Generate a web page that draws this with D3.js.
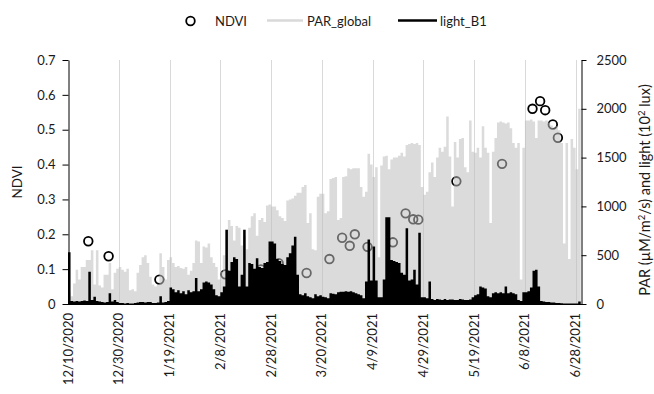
<!DOCTYPE html>
<html>
<head>
<meta charset="utf-8">
<script src="https://cdn.jsdelivr.net/npm/d3@7"></script>
<style>
  body { margin: 0; background: #fff; }
  svg { font-family: Lato, 'Open Sans', sans-serif; }
</style>
</head>
<body>
<svg id="chart" width="654" height="394"></svg>
<script>
// first day of the daily series
const startDate = '12/10/2020';

// daily peak PAR_global (right axis), one value per day from 12/10/2020
const parGlobal = [
  120, 80, 210, 350, 250, 380, 380, 450, 450, 550,
  200, 550, 190, 170, 300, 300, 420, 150, 320, 360,
  380, 350, 330, 360, 140, 150, 130, 320, 400, 480,
  500, 420, 280, 200, 180, 200, 520, 380, 250, 450,
  480, 420, 380, 390, 370, 360, 380, 300, 340, 420,
  650, 640, 420, 590, 580, 620, 480, 420, 380, 250,
  330, 500, 760, 860, 800, 650, 800, 780, 600, 700,
  560, 780, 900, 930, 700, 860, 880, 840, 1010, 1020,
  1000, 1000, 960, 900, 880, 850, 1060, 1070, 1080, 1110,
  1140, 1140, 1200, 1220, 830, 930, 560, 550, 1100, 1130,
  1130, 930, 950, 1280, 1290, 1300, 860, 880, 1300, 1310,
  1390, 1380, 1390, 1390, 1390, 1200, 1100, 1150, 1540, 1430,
  1300, 1400, 480, 1420, 1510, 1520, 1380, 1480, 1500, 1500,
  1520, 1550, 1510, 1630, 1640, 1650, 1640, 1650, 1630, 1200,
  1120, 1150, 1350, 1450, 1300, 1500, 1600, 1560, 1610, 1920,
  1510, 1000, 1660, 1500, 1690, 1700, 1400, 1350, 1880, 1560,
  1550, 1600, 1500, 1820, 1600, 1550, 830, 1560, 1700, 1860,
  1870, 1860, 1850, 1860, 1800, 1650, 1600, 1650, 250, 1600,
  1880, 1880, 1890, 1870, 1700, 1880, 1880, 1870, 1880, 1860,
  1830, 1800, 1820, 1780, 1650, 620, 1650, 460, 1690, 1600, 1380, 2000
];

// daily peak light_B1 (right axis)
const lightB1 = [
  530, 30, 25, 30, 25, 30, 35, 30, 330, 40,
  75, 30, 25, 20, 15, 20, 110, 25, 40, 20,
  10, 10, 5, 10, 5, 5, 10, 15, 20, 20,
  15, 20, 20, 10, 10, 15, 80, 15, 20, 30,
  170, 150, 120, 140, 110, 130, 100, 140, 120, 130,
  266, 130, 150, 220, 230, 220, 200, 150, 90, 80,
  120, 180, 760, 340, 430, 480, 460, 180, 300, 760,
  180, 420, 410, 360, 470, 380, 370, 420, 430, 640,
  640, 620, 460, 440, 410, 400, 480, 520, 600, 690,
  300, 100, 90, 110, 80, 70, 60, 100, 80, 90,
  75, 70, 60, 110, 105, 100, 120, 125, 125, 130,
  126, 130, 120, 110, 100, 90, 60, 230, 660, 240,
  590, 240, 70, 70, 250, 890, 890, 450, 440, 430,
  420, 320, 300, 775, 240, 250, 350, 200, 730, 70,
  70, 60, 230, 50, 40, 50, 45, 40, 50, 40,
  45, 45, 40, 40, 50, 45, 40, 40, 45, 70,
  90, 100, 180, 170, 160, 80, 70, 110, 120, 110,
  120, 110, 180, 110, 120, 110, 100, 40, 30, 120,
  120, 130, 170, 340, 350, 180, 30, 25, 20, 20,
  15, 15, 10, 10, 8, 5, 5, 5, 5, 5, 5, 25
];

// NDVI samples (left axis)
const ndviDates = [
  '12/18/2020', '12/26/2020', '1/15/2021', '2/10/2021', '2/24/2021', '3/3/2021',
  '3/14/2021', '3/23/2021', '3/28/2021', '3/31/2021', '4/2/2021', '4/7/2021',
  '4/17/2021', '4/22/2021', '4/25/2021', '4/27/2021', '5/12/2021', '5/30/2021',
  '6/11/2021', '6/14/2021', '6/16/2021', '6/19/2021', '6/21/2021'
];
const ndviValues = [
  0.18, 0.137, 0.07, 0.085, 0.099, 0.117,
  0.089, 0.129, 0.19, 0.167, 0.2, 0.164,
  0.177, 0.26, 0.243, 0.242, 0.352, 0.402,
  0.56, 0.582, 0.556, 0.515, 0.477
];

const dateTicks = [
  '12/10/2020', '12/30/2020', '1/19/2021', '2/8/2021', '2/28/2021', '3/20/2021',
  '4/9/2021', '4/29/2021', '5/19/2021', '6/8/2021', '6/28/2021'
];
const ndviTicks = [0, 0.1, 0.2, 0.3, 0.4, 0.5, 0.6, 0.7];
const parTicks = [0, 500, 1000, 1500, 2000, 2500];

const svg = d3.select('#chart');
const margin = {top: 60, right: 582, bottom: 304, left: 68};
const DAY = 864e5;
const parse = d3.utcParse('%m/%d/%Y');
const start = parse(startDate);

const x = d3.scaleUtc()
  .domain([start, new Date(start.getTime() + 202.5 * DAY)])
  .range([margin.left, margin.right]);
const yL = d3.scaleLinear().domain([0, 0.7]).range([margin.bottom, margin.top]);
const yR = d3.scaleLinear().domain([0, 2500]).range([margin.bottom, margin.top]);

// vertical gridlines
svg.append('g')
  .selectAll('line')
  .data(dateTicks.slice(1).map(parse))
  .join('line')
  .attr('x1', d => Math.round(x(d)) + 0.5)
  .attr('x2', d => Math.round(x(d)) + 0.5)
  .attr('y1', margin.top)
  .attr('y2', margin.bottom)
  .attr('stroke', '#d9d9d9')
  .attr('stroke-width', 1);

// NDVI circles sit under the translucent PAR area
const ndvi = ndviDates.map((d, i) => ({date: parse(d), v: ndviValues[i]}));
svg.append('g')
  .selectAll('circle')
  .data(ndvi)
  .join('circle')
  .attr('cx', d => x(d.date))
  .attr('cy', d => yL(d.v))
  .attr('r', 4.3)
  .attr('fill', 'none')
  .attr('stroke', '#000')
  .attr('stroke-width', 1.8);

// daily step series
function toSteps(values) {
  const pts = values.map((v, i) => ({date: new Date(start.getTime() + i * DAY), v}));
  pts.push({date: new Date(start.getTime() + values.length * DAY), v: values[values.length - 1]});
  return pts;
}
const area = d3.area()
  .x(d => x(d.date))
  .y0(yR(0))
  .y1(d => yR(d.v))
  .curve(d3.curveStepAfter);

svg.append('path')
  .datum(toSteps(parGlobal))
  .attr('d', area)
  .attr('fill', '#bdbdbd')
  .attr('fill-opacity', 0.55);

svg.append('path')
  .datum(toSteps(lightB1))
  .attr('d', area)
  .attr('fill', '#000');

// axes
const leftAxis = svg.append('g')
  .attr('transform', `translate(${margin.left + 0.5},0)`)
  .call(d3.axisLeft(yL).tickValues(ndviTicks).tickSize(6).tickSizeOuter(0).tickPadding(7)
    .tickFormat(d => d === 0 ? '0' : d3.format('.1f')(d)));

const rightAxis = svg.append('g')
  .attr('transform', `translate(${margin.right - 0.5},0)`)
  .call(d3.axisRight(yR).tickValues(parTicks).tickSize(5).tickSizeOuter(0).tickPadding(10)
    .tickFormat(d3.format('d')));

[leftAxis, rightAxis].forEach(g => {
  g.selectAll('path, line').attr('stroke', '#000');
  g.selectAll('text').attr('font-size', 13).attr('fill', '#1a1a1a')
    .attr('font-family', 'Lato, sans-serif');
});

// bottom axis line
svg.append('line')
  .attr('x1', margin.left)
  .attr('x2', margin.right + 3)
  .attr('y1', margin.bottom + 0.5)
  .attr('y2', margin.bottom + 0.5)
  .attr('stroke', '#000');

// rotated date labels
svg.append('g')
  .selectAll('text')
  .data(dateTicks)
  .join('text')
  .attr('transform', d => `translate(${x(parse(d))},313) rotate(-90)`)
  .attr('text-anchor', 'end')
  .attr('dy', '0.35em')
  .attr('font-size', 13)
  .attr('fill', '#1a1a1a')
  .text(d => d);

// axis titles
svg.append('text')
  .attr('transform', 'translate(22,182) rotate(-90)')
  .attr('text-anchor', 'middle')
  .attr('font-size', 13.5)
  .attr('fill', '#1a1a1a')
  .text('NDVI');

const rt = svg.append('text')
  .attr('transform', 'translate(650,190) rotate(-90)')
  .attr('text-anchor', 'middle')
  .attr('font-size', 14.5)
  .attr('fill', '#1a1a1a');
rt.append('tspan').text('PAR (µM/m');
rt.append('tspan').attr('dy', -5).attr('font-size', 9.5).text('2');
rt.append('tspan').attr('dy', 5).text('/s) and light (10');
rt.append('tspan').attr('dy', -5).attr('font-size', 9.5).text('2');
rt.append('tspan').attr('dy', 5).text(' lux)');

// legend
const legend = svg.append('g').attr('font-size', 13).attr('fill', '#1a1a1a');
legend.append('circle')
  .attr('cx', 190.5).attr('cy', 21).attr('r', 4.3)
  .attr('fill', 'none').attr('stroke', '#000').attr('stroke-width', 1.8);
legend.append('text').attr('x', 215).attr('y', 25.5).text('NDVI');
legend.append('line')
  .attr('x1', 267).attr('x2', 303).attr('y1', 20.5).attr('y2', 20.5)
  .attr('stroke', '#d9d9d9').attr('stroke-width', 2.5);
legend.append('text').attr('x', 307).attr('y', 25.5).text('PAR_global');
legend.append('line')
  .attr('x1', 398).attr('x2', 437).attr('y1', 20.5).attr('y2', 20.5)
  .attr('stroke', '#000').attr('stroke-width', 2.5);
legend.append('text').attr('x', 440).attr('y', 25.5).text('light_B1');
</script>
</body>
</html>
